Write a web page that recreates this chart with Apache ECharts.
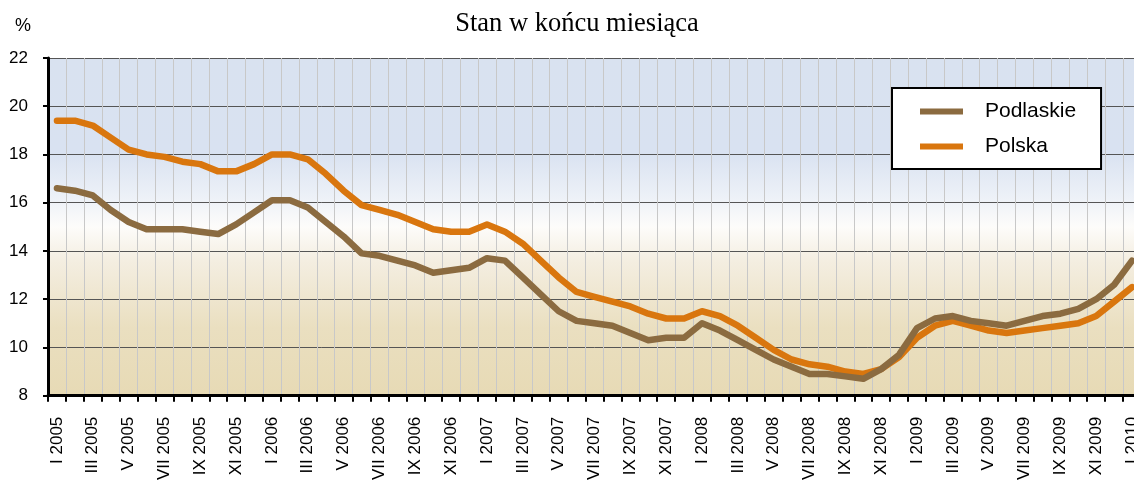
<!DOCTYPE html>
<html>
<head>
<meta charset="utf-8">
<script src="https://cdn.jsdelivr.net/npm/echarts@6/dist/echarts.min.js"></script>
<style>
html,body{margin:0;padding:0;background:#fff;overflow:hidden;width:1134px;height:483px;}
#c{width:1141px;height:483px;}
</style>
</head>
<body>
<div id="c"></div>
<script>
var romans = ['I','II','III','IV','V','VI','VII','VIII','IX','X','XI','XII'];
var years = [2005, 2006, 2007, 2008, 2009, 2010];
var categories = [];
years.forEach(function (y) {
  romans.forEach(function (r) {
    if (y < 2010 || r === 'I') categories.push(r + ' ' + y);
  });
});

var podlaskie = [
  16.6, 16.5, 16.3, 15.7, 15.2, 14.9, 14.9, 14.9, 14.8, 14.7, 15.1, 15.6,
  16.1, 16.1, 15.8, 15.2, 14.6, 13.9, 13.8, 13.6, 13.4, 13.1, 13.2, 13.3,
  13.7, 13.6, 12.9, 12.2, 11.5, 11.1, 11.0, 10.9, 10.6, 10.3, 10.4, 10.4,
  11.0, 10.7, 10.3, 9.9, 9.5, 9.2, 8.9, 8.9, 8.8, 8.7, 9.1, 9.7,
  10.8, 11.2, 11.3, 11.1, 11.0, 10.9, 11.1, 11.3, 11.4, 11.6, 12.0, 12.6,
  13.6
];
var polska = [
  19.4, 19.4, 19.2, 18.7, 18.2, 18.0, 17.9, 17.7, 17.6, 17.3, 17.3, 17.6,
  18.0, 18.0, 17.8, 17.2, 16.5, 15.9, 15.7, 15.5, 15.2, 14.9, 14.8, 14.8,
  15.1, 14.8, 14.3, 13.6, 12.9, 12.3, 12.1, 11.9, 11.7, 11.4, 11.2, 11.2,
  11.5, 11.3, 10.9, 10.4, 9.9, 9.5, 9.3, 9.2, 9.0, 8.9, 9.1, 9.6,
  10.4, 10.9, 11.1, 10.9, 10.7, 10.6, 10.7, 10.8, 10.9, 11.0, 11.3, 11.9,
  12.5
];
var seriesNames = ['Podlaskie', 'Polska'];
var titleText = 'Stan w końcu miesiąca';
var unitText = '%';

var chart = echarts.init(document.getElementById('c'), null, {renderer: 'canvas'});
var FONT = '"Liberation Sans", Arial, sans-serif';
chart.setOption({
  animation: false,
  backgroundColor: '#ffffff',
  title: [{
    text: titleText,
    left: 572, top: 6, textAlign: 'center',
    textStyle: {fontFamily: '"Liberation Serif", "Times New Roman", serif', fontSize: 26.5, fontWeight: 'normal', color: '#000'}
  }, {
    text: unitText,
    left: 18, top: 12, textAlign: 'center',
    textStyle: {fontFamily: FONT, fontSize: 18, fontWeight: 'normal', color: '#000'}
  }],
  legend: {
    data: seriesNames,
    orient: 'vertical',
    left: 892, top: 88,
    padding: [13, 25, 12, 28],
    itemGap: 14,
    itemWidth: 43,
    itemHeight: 6,
    icon: 'rect',
    backgroundColor: '#ffffff',
    borderColor: '#000000',
    borderWidth: 2,
    textStyle: {fontFamily: FONT, fontSize: 21, lineHeight: 21, color: '#000', padding: [0, 0, 0, 17]}
  },
  grid: {
    left: 48, right: 0, top: 58, bottom: 86,
    show: true, borderWidth: 0,
    backgroundColor: new echarts.graphic.LinearGradient(0, 0, 0, 1, [
      {offset: 0, color: '#d9e2f0'},
      {offset: 0.28, color: '#d9e2f1'},
      {offset: 0.42, color: '#eef2f8'},
      {offset: 0.5, color: '#fdfcfa'},
      {offset: 0.6, color: '#f4eee1'},
      {offset: 0.8, color: '#eadfc0'},
      {offset: 1, color: '#e7dab5'}
    ])
  },
  xAxis: {
    type: 'category',
    data: categories,
    boundaryGap: true,
    axisLine: {lineStyle: {color: '#000', width: 3}},
    axisTick: {show: true, interval: 0, length: 6, lineStyle: {color: '#000', width: 2}},
    axisLabel: {interval: 1, rotate: 90, margin: 21, fontFamily: FONT, fontSize: 17, color: '#000'},
    splitLine: {show: true, interval: 0, lineStyle: {color: '#c8c8c8', width: 1}}
  },
  yAxis: {
    type: 'value',
    min: 8, max: 22, interval: 2,
    axisLine: {show: true, lineStyle: {color: '#000', width: 3}},
    axisTick: {show: true, length: 5, lineStyle: {color: '#000', width: 2}},
    axisLabel: {margin: 20, fontFamily: FONT, fontSize: 17, color: '#000'},
    splitLine: {show: true, lineStyle: {color: '#555555', width: 1}}
  },
  series: [{
    name: 'Polska',
    type: 'line',
    data: polska,
    symbol: 'none',
    color: '#d9760e',
    lineStyle: {width: 6.5, color: '#d9760e', cap: 'round', join: 'round'},
    z: 2
  }, {
    name: 'Podlaskie',
    type: 'line',
    data: podlaskie,
    symbol: 'none',
    color: '#8b6b40',
    lineStyle: {width: 6.5, color: '#8b6b40', cap: 'round', join: 'round'},
    z: 3
  }]
});
</script>
</body>
</html>
